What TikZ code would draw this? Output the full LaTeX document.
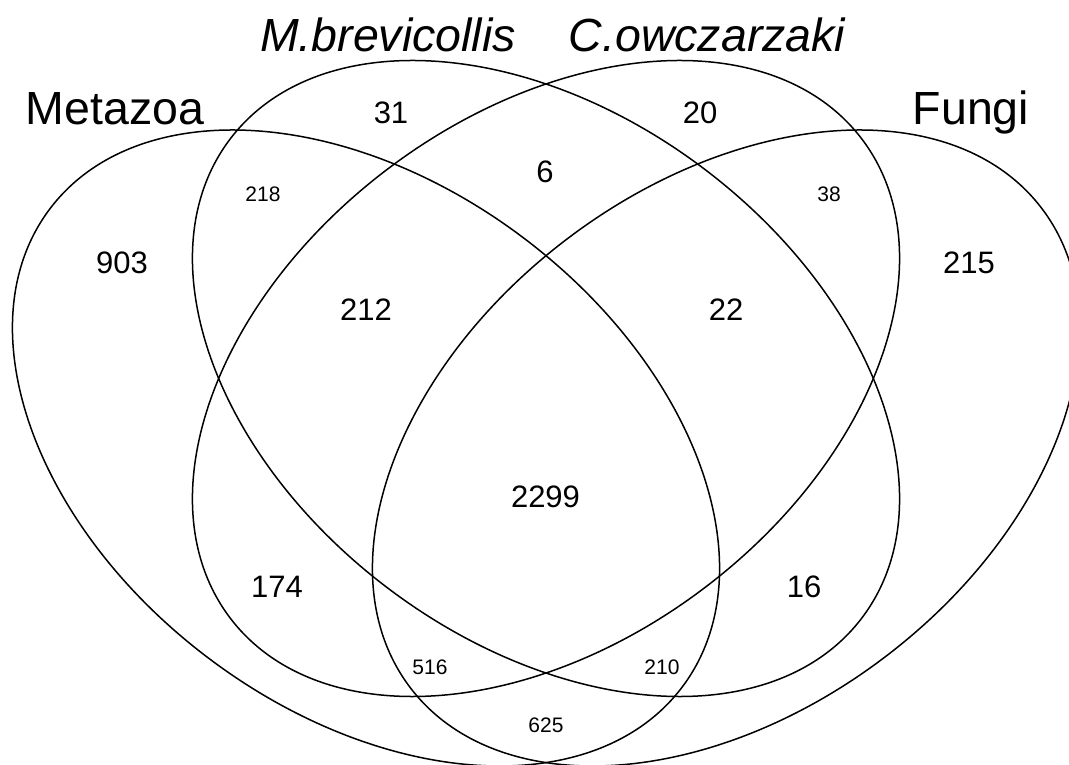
\documentclass[tikz,border=0pt]{standalone}
\usepackage{fontspec}
\setmainfont{Liberation Sans}
\tikzset{
  setline/.style={line width=1.5pt, black},
  bignum/.style={font=\fontsize{31}{31}\selectfont, inner sep=0pt},
  smallnum/.style={font=\fontsize{21}{21}\selectfont, inner sep=0pt},
  settitle/.style={font=\fontsize{46.5}{46.5}\selectfont, inner sep=0pt, anchor=base},
}
\begin{document}
\begin{tikzpicture}[x=1pt, y=1pt]
  \path[use as bounding box, fill=white] (0,0) rectangle (1069,764);
  \coordinate (cMet) at (366,316);
  \coordinate (cMbr) at (546,385.5);
  \coordinate (cCow) at (546,385.5);
  \coordinate (cFun) at (726,316);
  \begin{scope}
    \clip (0,0) rectangle (1069,764);
    \draw[setline, shift={(cMet)}, rotate=-37.16] (0,0) ellipse [x radius=396.4, y radius=262.6];
    \draw[setline, shift={(cMbr)}, rotate=-37.16] (0,0) ellipse [x radius=396.4, y radius=262.6];
    \draw[setline, shift={(cCow)}, rotate=37.16] (0,0) ellipse [x radius=396.4, y radius=262.6];
    \draw[setline, shift={(cFun)}, rotate=37.16] (0,0) ellipse [x radius=396.4, y radius=262.6];
  \end{scope}
  % set names
  \node[settitle] (tMet) at (115,639) {Metazoa};
  \node[settitle] (tMbr) at (388,712) {\itshape M.brevicollis};
  \node[settitle] (tCow) at (707,712) {\itshape C.owczarzaki};
  \node[settitle] (tFun) at (971,639) {Fungi};
  % counts
  \node[bignum] (n31) at (391,651.5) {31};
  \node[bignum] (n20) at (700,651.5) {20};
  \node[bignum] (n6) at (545,592) {6};
  \node[smallnum] (n218) at (263,569.5) {218};
  \node[smallnum] (n38) at (829,569.5) {38};
  \node[bignum] (n903) at (122,501) {903};
  \node[bignum] (n215) at (969,501) {215};
  \node[bignum] (n212) at (366,454.5) {212};
  \node[bignum] (n22) at (726,454.5) {22};
  \node[bignum] (n2299) at (545.5,267) {2299};
  \node[bignum] (n174) at (277,177.5) {174};
  \node[bignum] (n16) at (804,177.5) {16};
  \node[smallnum] (n516) at (430,96.5) {516};
  \node[smallnum] (n210) at (662,96.5) {210};
  \node[smallnum] (n625) at (546,39) {625};
\end{tikzpicture}
\end{document}
